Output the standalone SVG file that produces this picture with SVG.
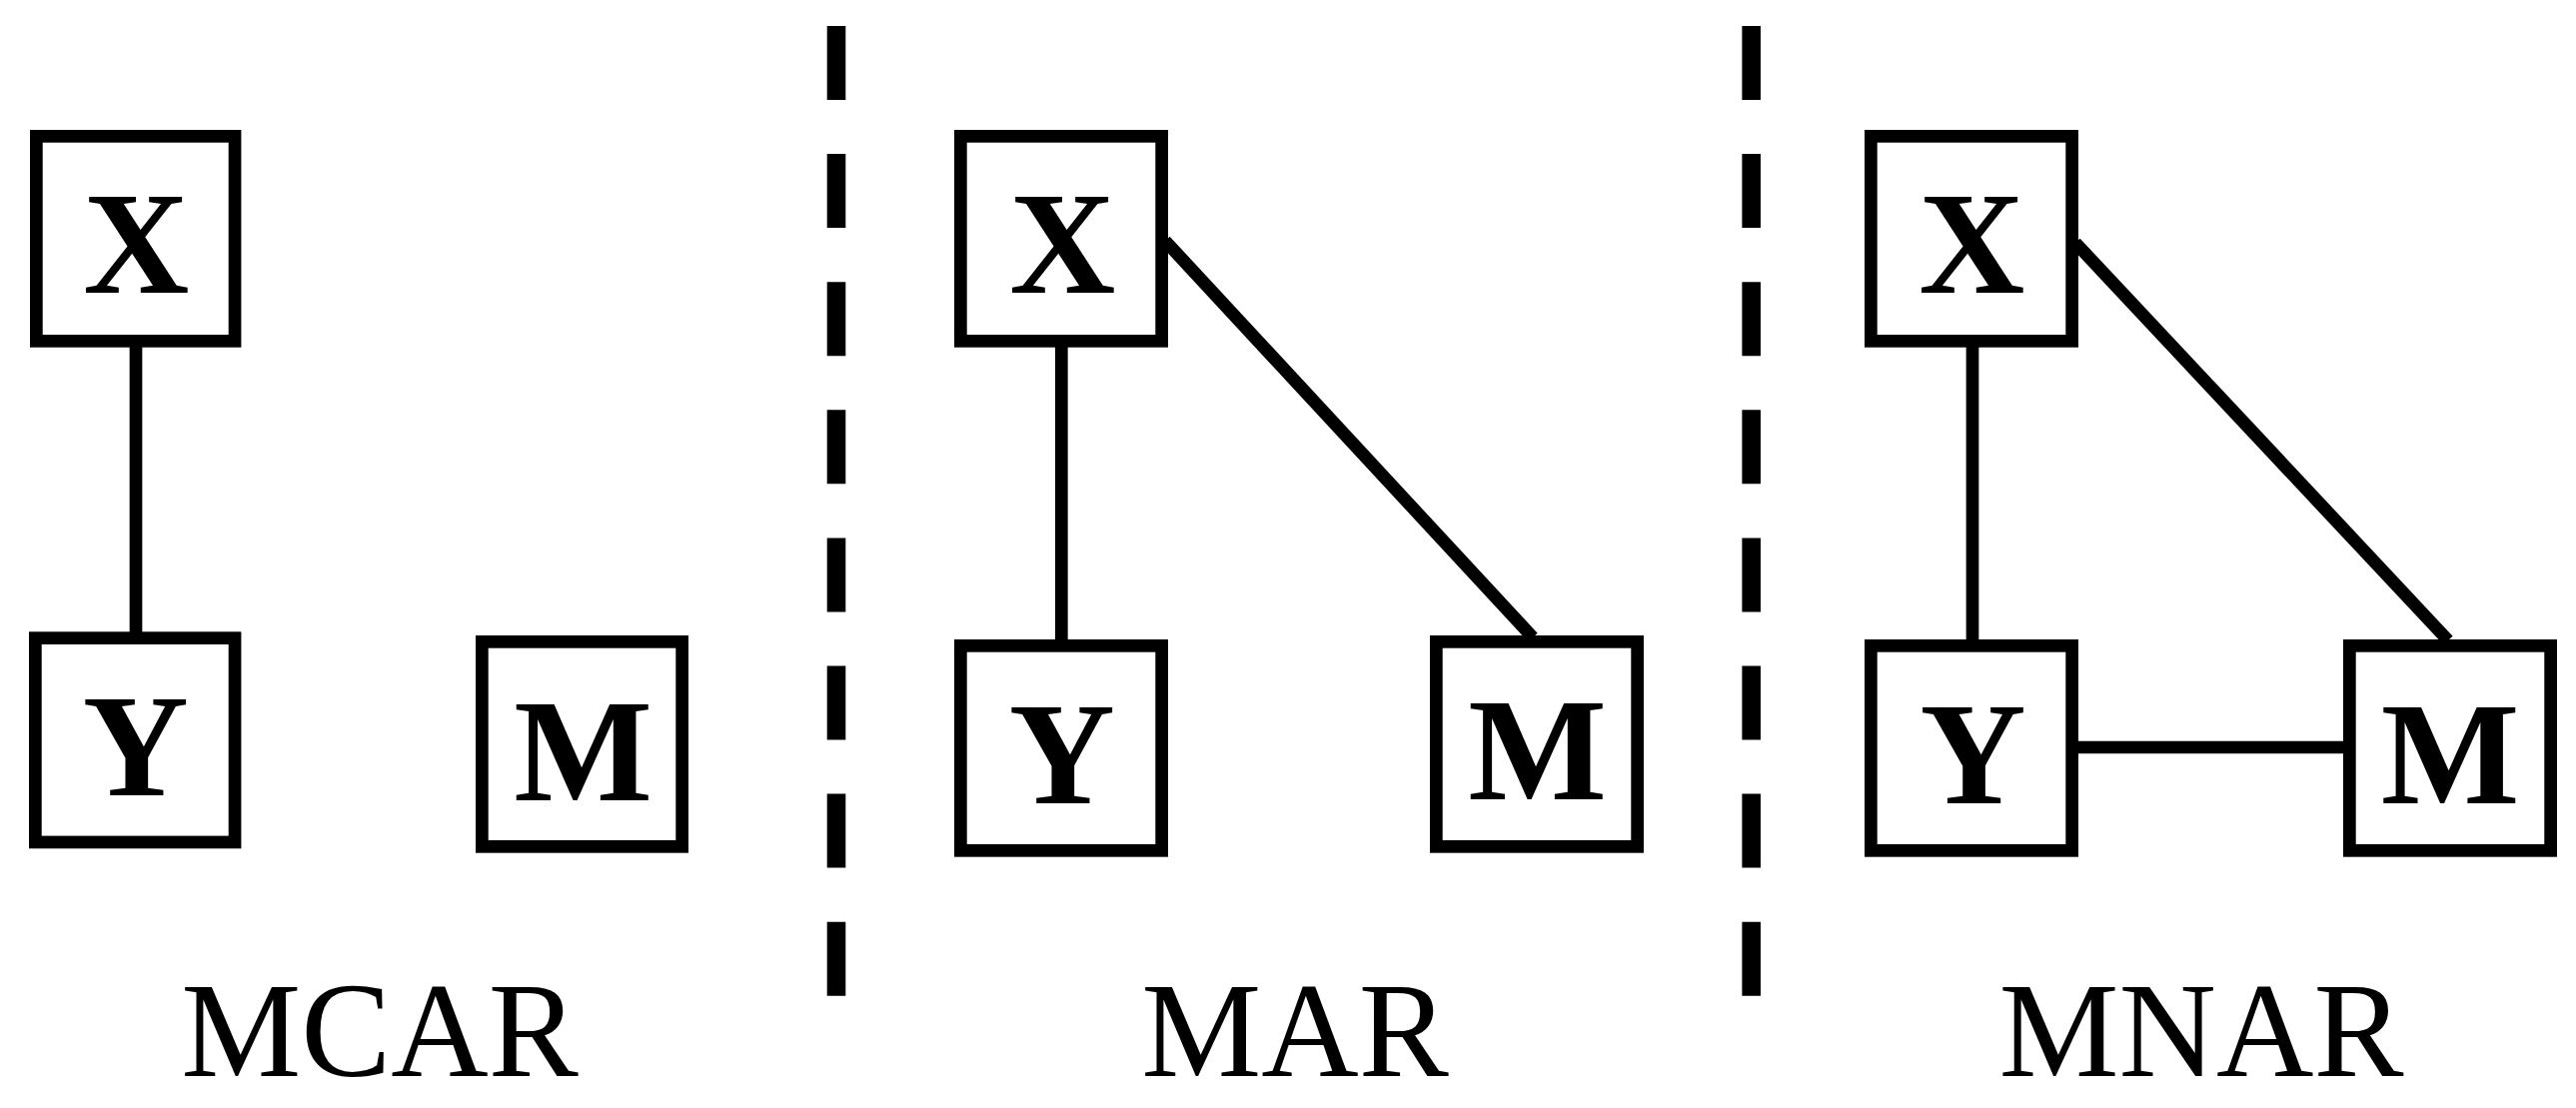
<svg xmlns="http://www.w3.org/2000/svg" width="2578" height="1109" viewBox="0 0 2578 1109">
<style>
.box{fill:#fff;stroke:#000;stroke-width:12.7}
.var{font-family:"Liberation Serif","Times New Roman",serif;font-weight:bold;font-size:147px;text-anchor:middle;fill:#000}
.lbl{font-family:"Liberation Serif","Times New Roman",serif;font-size:135px;text-anchor:middle;fill:#000}
.edge{stroke:#000;stroke-width:12.7;fill:none}
.sep{stroke:#000;stroke-width:18.6;stroke-dasharray:74 54.1;fill:none}
</style>
<rect width="2578" height="1109" fill="#fff"/>
<g id="connectors">
<line class="edge" x1="136" y1="347" x2="136" y2="633"/>
<line class="edge" x1="1062.3" y1="347" x2="1062.3" y2="641"/>
<line class="edge" x1="1166" y1="241" x2="1534" y2="638"/>
<line class="edge" x1="1974" y1="347" x2="1974" y2="641"/>
<line class="edge" x1="2077" y1="243" x2="2450" y2="641"/>
<line class="edge" x1="2080" y1="748" x2="2346" y2="748"/>
</g>
<g id="separators">
<line class="sep" x1="837" y1="26" x2="837" y2="1000"/>
<line class="sep" x1="1752.7" y1="26" x2="1752.7" y2="1000"/>
</g>
<g id="mcar-x"><rect class="box" x="36.35" y="136.35" width="198.7" height="205"/><text class="var" x="136.3" y="292.7">X</text></g>
<g id="mcar-y"><rect class="box" x="35.35" y="638.65" width="199.7" height="204.3"/><text class="var" x="135.8" y="796.3">Y</text></g>
<g id="mcar-m"><rect class="box" x="482.35" y="642.35" width="200.3" height="205"/><text class="var" x="583.7" y="801">M</text></g>
<g id="mar-x"><rect class="box" x="961.35" y="136.35" width="201.3" height="205"/><text class="var" x="1063.3" y="292.7">X</text></g>
<g id="mar-y"><rect class="box" x="961.35" y="646.35" width="201.3" height="205"/><text class="var" x="1062.8" y="804">Y</text></g>
<g id="mar-m"><rect class="box" x="1437.35" y="642.35" width="201.3" height="205"/><text class="var" x="1538.5" y="800.3">M</text></g>
<g id="mnar-x"><rect class="box" x="1872.35" y="136.35" width="201.3" height="205"/><text class="var" x="1973.3" y="292.7">X</text></g>
<g id="mnar-y"><rect class="box" x="1872.35" y="646.35" width="201.3" height="205"/><text class="var" x="1974.5" y="803.7">Y</text></g>
<g id="mnar-m"><rect class="box" x="2351.35" y="646.35" width="201.3" height="205"/><text class="var" x="2452" y="803.7">M</text></g>
<g id="labels">
<text class="lbl" x="380" y="1077">MCAR</text>
<text class="lbl" x="1296" y="1077">MAR</text>
<text class="lbl" x="2203" y="1077">MNAR</text>
</g>
</svg>
